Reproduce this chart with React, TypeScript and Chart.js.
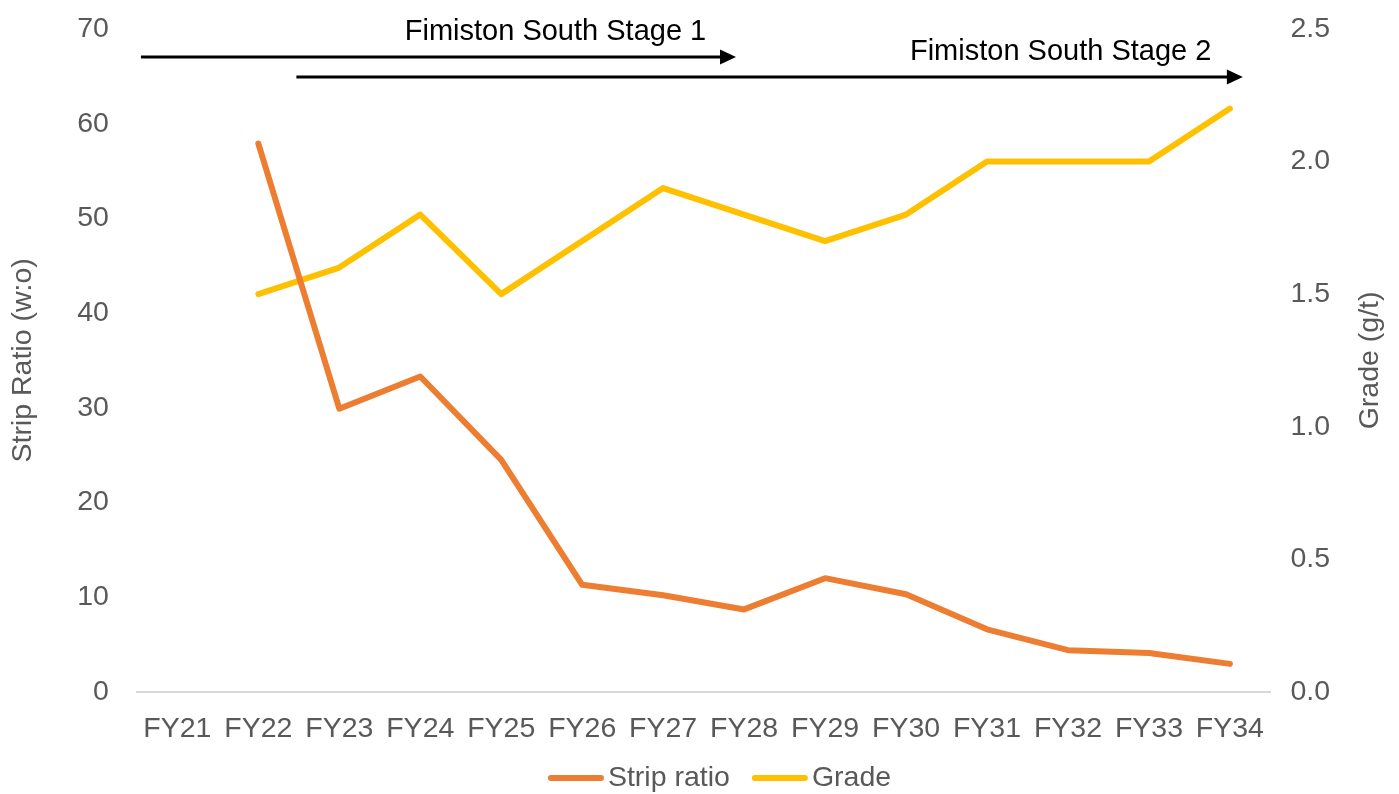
import React, { useEffect, useRef } from "react";
import { Chart, registerables } from "chart.js";

Chart.register(...registerables);

const categories = ["FY21", "FY22", "FY23", "FY24", "FY25", "FY26", "FY27", "FY28", "FY29", "FY30", "FY31", "FY32", "FY33", "FY34"];
const stripRatio = [null, 57.9, 29.9, 33.3, 24.5, 11.3, 10.2, 8.7, 12.0, 10.3, 6.6, 4.4, 4.1, 2.95];
const grade = [null, 1.5, 1.6, 1.8, 1.5, 1.7, 1.9, 1.8, 1.7, 1.8, 2.0, 2.0, 2.0, 2.2];
const leftTicks = [0, 10, 20, 30, 40, 50, 60, 70];
const rightTicks = [0, 0.5, 1.0, 1.5, 2.0, 2.5];

const FONT = "'Liberation Sans', Arial, sans-serif";
const GREY = "#595959";
const FS = 28.5;

const arrows = [
  { label: "Fimiston South Stage 1", from: -0.45, to: 6.9, y: 67.05, textX: 4.67, textY: 69.7 },
  { label: "Fimiston South Stage 2", from: 1.47, to: 13.16, y: 64.94, textX: 10.91, textY: 67.6 },
];

const annotationPlugin = {
  id: "stageArrows",
  afterDatasetsDraw(chart: any) {
    const { ctx, scales } = chart;
    const x = scales.x;
    const y = scales.y;
    ctx.save();
    ctx.strokeStyle = "#000";
    ctx.fillStyle = "#000";
    ctx.lineWidth = 3;
    for (const a of arrows) {
      const x1 = x.getPixelForValue(a.from);
      const x2 = x.getPixelForValue(a.to);
      const yy = y.getPixelForValue(a.y);
      const head = 16;
      ctx.beginPath();
      ctx.moveTo(x1, yy);
      ctx.lineTo(x2 - head + 1, yy);
      ctx.stroke();
      ctx.beginPath();
      ctx.moveTo(x2, yy);
      ctx.lineTo(x2 - head, yy - 7.5);
      ctx.lineTo(x2 - head, yy + 7.5);
      ctx.closePath();
      ctx.fill();
      ctx.font = `29px ${FONT}`;
      ctx.textAlign = "center";
      ctx.textBaseline = "middle";
      ctx.fillText(a.label, x.getPixelForValue(a.textX), y.getPixelForValue(a.textY));
    }
    ctx.restore();

    // right axis title, reading bottom to top
    ctx.save();
    ctx.translate(1370, (chart.chartArea.top + chart.chartArea.bottom) / 2);
    ctx.rotate(-Math.PI / 2);
    ctx.fillStyle = GREY;
    ctx.font = `${FS}px ${FONT}`;
    ctx.textAlign = "center";
    ctx.textBaseline = "middle";
    ctx.fillText("Grade (g/t)", 0, 0);
    ctx.restore();

    // legend
    ctx.save();
    ctx.font = `${FS}px ${FONT}`;
    const lineLen = 50;
    const gapText = 7;
    const gapItem = 22;
    const items = chart.data.datasets.map((ds: any) => ({ text: ds.label, color: ds.borderColor, w: ctx.measureText(ds.label).width }));
    let total = 0;
    items.forEach((it: any, i: number) => { total += 3 + lineLen + 3 + gapText - 3 + it.w + (i < items.length - 1 ? gapItem : 0); });
    let cx = chart.width / 2 + 20 - total / 2;
    const ly = 778;
    for (const it of items) {
      ctx.strokeStyle = it.color;
      ctx.lineWidth = 6;
      ctx.lineCap = "round";
      ctx.beginPath();
      ctx.moveTo(cx + 3, ly);
      ctx.lineTo(cx + 3 + lineLen, ly);
      ctx.stroke();
      const tx = cx + 3 + lineLen + gapText;
      ctx.fillStyle = GREY;
      ctx.textAlign = "left";
      ctx.textBaseline = "middle";
      ctx.fillText(it.text, tx, ly);
      cx = tx + it.w + gapItem;
    }
    ctx.restore();
  },
};

const trimPad = (s: any) => {
  s.paddingTop = 0;
  s.paddingBottom = 0;
};

export default function App() {
  const ref = useRef<HTMLCanvasElement | null>(null);
  useEffect(() => {
    if (!ref.current) return;
    const chart = new Chart(ref.current, {
      type: "line",
      data: {
        labels: categories,
        datasets: [
          {
            label: "Strip ratio",
            data: stripRatio,
            borderColor: "#ED7D31",
            backgroundColor: "#ED7D31",
            borderWidth: 6,
            pointRadius: 0,
            tension: 0,
            yAxisID: "y",
            borderCapStyle: "round",
            borderJoinStyle: "round",
          },
          {
            label: "Grade",
            data: grade,
            borderColor: "#FFC000",
            backgroundColor: "#FFC000",
            borderWidth: 6,
            pointRadius: 0,
            tension: 0,
            yAxisID: "y1",
            borderCapStyle: "round",
            borderJoinStyle: "round",
          },
        ],
      },
      options: {
        animation: false,
        responsive: true,
        maintainAspectRatio: false,
        layout: { padding: { top: 29, left: 0, right: 49, bottom: 28 } },
        plugins: {
          tooltip: { enabled: false },
          legend: { display: false },
        },
        scales: {
          x: {
            offset: true,
            grid: { display: false, drawTicks: false },
            border: { display: true, color: "#D9D9D9", width: 2 },
            ticks: { font: { family: FONT, size: FS }, color: GREY, padding: 20, maxRotation: 0 },
          },
          y: {
            position: "left",
            min: 0,
            max: 70,
            afterBuildTicks: (s: any) => { s.ticks = leftTicks.map((v) => ({ value: v })); },
            afterFit: trimPad,
            grid: { display: false, drawTicks: false },
            border: { display: false },
            ticks: { font: { family: FONT, size: FS }, color: GREY, padding: 28 },
            title: { display: true, text: "Strip Ratio (w:o)", font: { family: FONT, size: FS }, color: GREY, padding: { top: 6, bottom: 9 } },
          },
          y1: {
            position: "right",
            min: 0,
            max: 2.5,
            afterBuildTicks: (s: any) => { s.ticks = rightTicks.map((v) => ({ value: v })); },
            afterFit: trimPad,
            grid: { display: false, drawTicks: false },
            border: { display: false },
            ticks: {
              font: { family: FONT, size: FS },
              color: GREY,
              padding: 20,
              callback: (v: any) => Number(v).toFixed(1),
            },
          },
        },
      },
      plugins: [annotationPlugin],
    } as any);
    return () => chart.destroy();
  }, []);
  return (
    <div style={{ position: "fixed", left: 0, top: 0, width: 1399, height: 794, background: "#fff" }}>
      <canvas ref={ref} />
    </div>
  );
}
